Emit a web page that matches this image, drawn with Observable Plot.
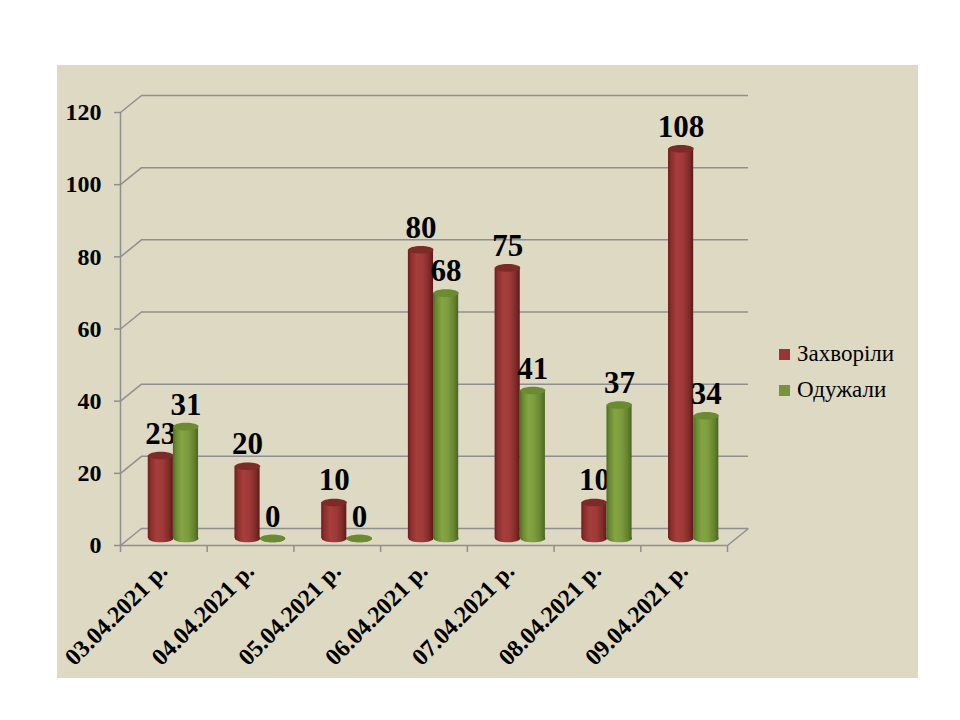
<!DOCTYPE html>
<html><head><meta charset="utf-8">
<script src="https://cdn.jsdelivr.net/npm/d3@7"></script>
<script src="https://cdn.jsdelivr.net/npm/@observablehq/plot@0.6"></script>
<style>
body{margin:0;background:#fff;width:960px;height:720px;position:relative;overflow:hidden;font-family:"Liberation Serif",serif}
#panel{position:absolute;left:57px;top:65px;width:861px;height:613px;background:#DDD9C3}
#chart{position:absolute;left:0;top:0}
#legend{position:absolute;left:779px;top:341px;font-size:23px;color:#000;font-family:"Liberation Serif",serif}
#legend .row{display:flex;align-items:center;height:26px;margin-bottom:10px}
#legend .sw{width:11px;height:11px;margin-right:7px}
</style></head>
<body><div id="panel"></div><div id="chart"></div><div id="legend"></div>
<script>
const dates = ["03.04.2021 р.","04.04.2021 р.","05.04.2021 р.","06.04.2021 р.","07.04.2021 р.","08.04.2021 р.","09.04.2021 р."];
const sick = [23, 20, 10, 80, 75, 10, 108];
const recovered = [31, 0, 0, 68, 41, 37, 34];
const seriesNames = ["Захворіли", "Одужали"];
const seriesColors = ["#953735", "#77933C"];
const yTicks = [0, 20, 40, 60, 80, 100, 120];

const rows = dates.map((d, i) => ({date: d, i, sick: sick[i], rec: recovered[i]}));

const FONT = "Liberation Serif";
// geometry (pixels)
const W = 960, H = 720, mL = 120, mR = 233, mT = 112, mB = 175;
const depthX = 21, depthY = 17, barDy = -7;
const pxPerX = (W - mL - mR) / dates.length;
const pxPerY = (H - mT - mB) / 120;
const dxU = depthX / pxPerX, dyU = depthY / pxPerY;
const gray = "#8f8f8f";

const ellipse = {draw(ctx, size) {
  const rx = Math.sqrt(size / Math.PI), ry = rx * 0.3, k = 0.5523;
  ctx.moveTo(rx, 0);
  ctx.bezierCurveTo(rx, ry * k, rx * k, ry, 0, ry);
  ctx.bezierCurveTo(-rx * k, ry, -rx, ry * k, -rx, 0);
  ctx.bezierCurveTo(-rx, -ry * k, -rx * k, -ry, 0, -ry);
  ctx.bezierCurveTo(rx * k, -ry, rx, -ry * k, rx, 0);
  ctx.closePath();
}};

const series = [
  {key: "sick", o1: 0.32, o2: 0.61, body: "url(#gRed)", top: "#7d2b29"},
  {key: "rec", o1: 0.61, o2: 0.90, body: "url(#gGreen)", top: "#6b8a32"}
];
const rBar = (0.29 * pxPerX) / 2;

const barMarks = series.flatMap(s => [
  Plot.dot(rows, {x: d => d.i + (s.o1 + s.o2) / 2, y: () => 0, dy: barDy, r: rBar, symbol: ellipse, fill: s.body, stroke: "none"}),
  Plot.rectY(rows, {x1: d => d.i + s.o1, x2: d => d.i + s.o2, y1: 0, y2: s.key, dy: barDy, fill: s.body}),
  Plot.dot(rows, {x: d => d.i + (s.o1 + s.o2) / 2, y: s.key, dy: barDy, r: rBar, symbol: ellipse, fill: s.top, stroke: "none"}),
  Plot.text(rows, {x: d => d.i + (s.o1 + s.o2) / 2, y: s.key, text: d => String(d[s.key]), dy: barDy - 12, lineAnchor: "bottom", fontSize: 31, fontWeight: "bold", fill: "black", fontFamily: FONT})
]);

const chart = Plot.plot({
  width: W, height: H,
  marginLeft: mL, marginRight: mR, marginTop: mT, marginBottom: mB,
  style: {background: "transparent", fontFamily: FONT, color: "black"},
  x: {domain: [0, dates.length], axis: null},
  y: {domain: [0, 120], axis: null},
  marks: [
    Plot.ruleY(yTicks, {dx: depthX, dy: -depthY, stroke: gray, strokeWidth: 1.5}),
    Plot.link(yTicks, {x1: 0, y1: d => d, x2: dxU, y2: d => d + dyU, stroke: gray, strokeWidth: 1.5}),
    Plot.link([0], {x1: dates.length, y1: 0, x2: dates.length + dxU, y2: dyU, stroke: gray, strokeWidth: 1.5}),
    Plot.ruleX([0], {y1: 0, y2: 120, stroke: gray, strokeWidth: 1.5}),
    Plot.ruleY([0], {stroke: gray, strokeWidth: 1.5}),
    Plot.axisY({ticks: yTicks, tickSize: 6, tickPadding: 13, fontSize: 24, fontWeight: "bold", stroke: gray, strokeWidth: 1.5, fill: "black", label: null, tickFormat: d => String(d), fontFamily: FONT}),
    Plot.axisX({ticks: d3.range(0, dates.length + 1), tickSize: 7, tickFormat: () => "", stroke: gray, strokeWidth: 1.5, label: null}),
    Plot.text(rows, {x: d => d.i + 0.5, text: "date", frameAnchor: "bottom", dx: 5, dy: 27, rotate: -45, textAnchor: "end", fontSize: 24, fontWeight: "bold", fill: "black", fontFamily: FONT}),
    ...barMarks
  ]
});

const svg = chart;
const defs = d3.select(svg).insert("defs", ":first-child");
function grad(id, stops) {
  const g = defs.append("linearGradient").attr("id", id).attr("x1", "0").attr("x2", "1").attr("y1", "0").attr("y2", "0");
  stops.forEach(([o, c]) => g.append("stop").attr("offset", o).attr("stop-color", c));
}
grad("gRed", [[0, "#6a1e1d"], [0.12, "#8a2f2d"], [0.35, "#a63e3c"], [0.6, "#9e3a38"], [0.85, "#7f2a28"], [1, "#5c1918"]]);
grad("gGreen", [[0, "#4f6b22"], [0.12, "#6a8a31"], [0.35, "#85a544"], [0.6, "#7c9b3d"], [0.85, "#62822d"], [1, "#4a651f"]]);
document.getElementById("chart").appendChild(svg);

const legend = d3.select("#legend");
seriesNames.forEach((n, k) => {
  const r = legend.append("div").attr("class", "row");
  r.append("div").attr("class", "sw").style("background", seriesColors[k]);
  r.append("span").text(n);
});
</script>
</body></html>
